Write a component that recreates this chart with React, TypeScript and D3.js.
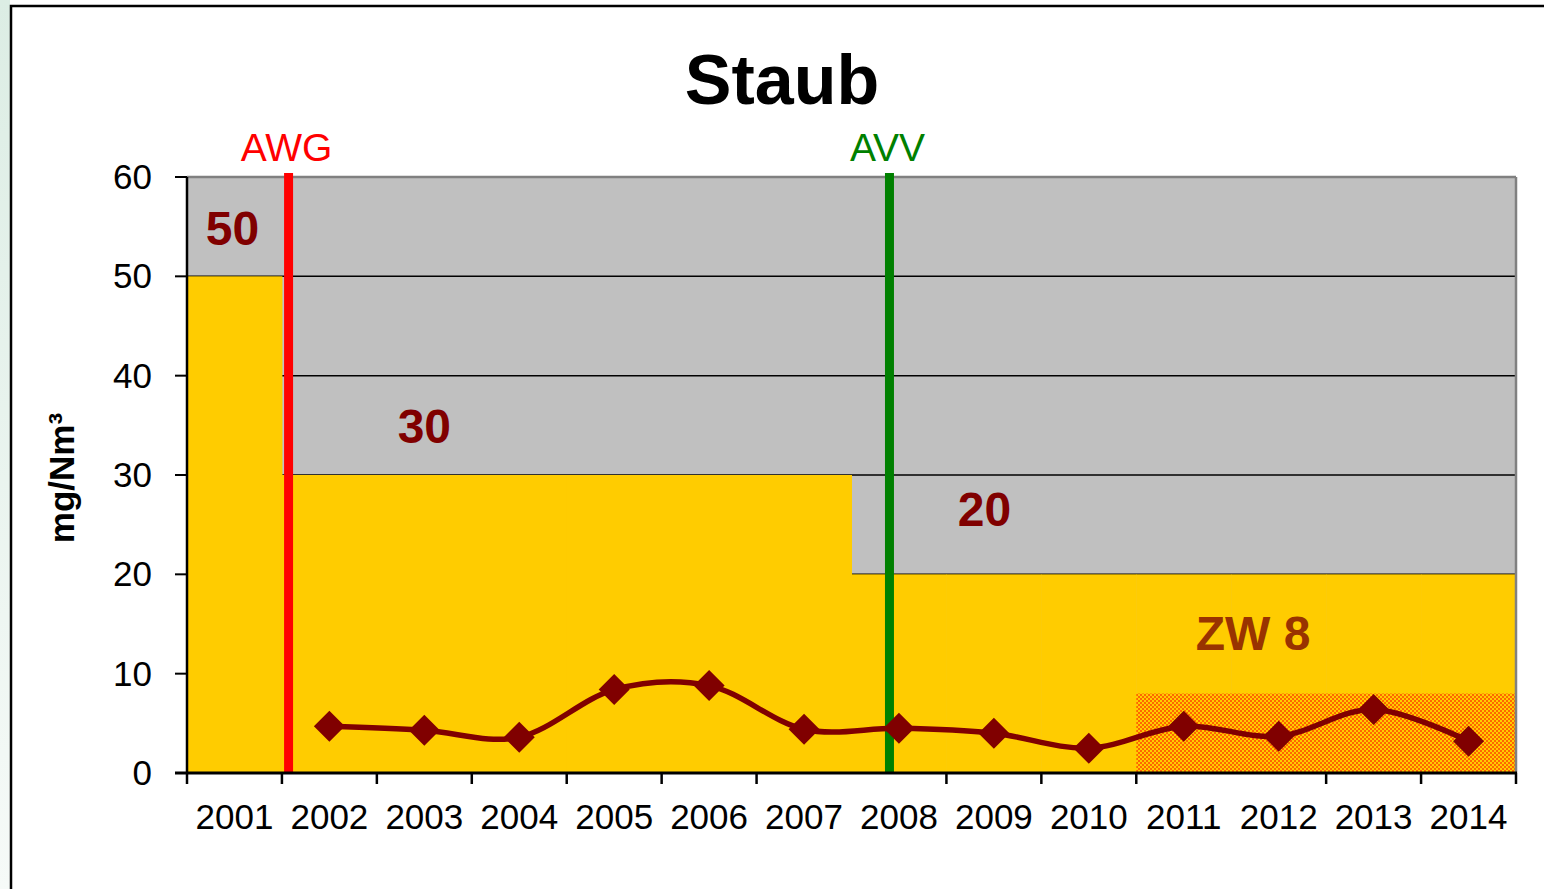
import React from "react"
import * as d3 from "d3"

// data
const years = ["2001", "2002", "2003", "2004", "2005", "2006", "2007", "2008", "2009", "2010", "2011", "2012", "2013", "2014"]
const limits = [50, 30, 30, 30, 30, 30, 30, 20, 20, 20, 20, 20, 20, 20]
const measured = [null, 4.7, 4.3, 3.6, 8.4, 8.8, 4.4, 4.5, 4.0, 2.5, 4.7, 3.7, 6.4, 3.2]
const zwYears = ["2011", "2012", "2013", "2014"]
const zwValue = 8
const yTicks = [0, 10, 20, 30, 40, 50, 60]
const gridValues = [20, 30, 40, 50]
// boundaries where Excel shows a tick mark (index into years, 14 = right end)
const xTickIdx = [0, 1, 2, 3, 4, 5, 6, 8, 9, 10, 12, 13, 14]
// label positions on a continuous year scale
const limitLabels = [
  { text: "50", at: 2001.48, value: 55, color: "#800000" },
  { text: "30", at: 2003.5, value: 35, color: "#800000" },
  { text: "20", at: 2009.4, value: 26.7, color: "#800000" },
  { text: "ZW 8", at: 2012.23, value: 14.2, color: "#993300" },
]
const events = [
  { label: "AWG", at: 2002.07, color: "#ff0000" },
  { label: "AVV", at: 2008.4, color: "#008000" },
]

const W = 1544
const H = 889
const left = 187, right = 1516, top = 177, bottom = 773
const font = "'Liberation Sans', Arial, sans-serif"

export default function App() {
  const x = d3.scaleBand<string>().domain(years).range([left, right]).padding(0)
  const bw = x.bandwidth()
  const xt = d3.scaleLinear().domain([2001, 2015]).range([left, right])
  const y = d3.scaleLinear().domain([0, 60]).range([bottom, top])

  const pts = years
    .map((yr, i) => ({ yr, v: measured[i] }))
    .filter((d) => d.v !== null) as { yr: string; v: number }[]

  const line = d3
    .line<{ yr: string; v: number }>()
    .x((d) => x(d.yr)! + bw / 2)
    .y((d) => y(d.v))
    .curve(d3.curveCatmullRom.alpha(0))

  const zwX0 = x(zwYears[0])!
  const zwX1 = x(zwYears[zwYears.length - 1])! + bw

  return (
    <svg width={W} height={H} style={{ position: "absolute", left: 0, top: 0 }} fontFamily={font}>
      <defs>
        <linearGradient id="side" x1="0" y1="0" x2="0" y2="1">
          <stop offset="0" stopColor="#dcede4" />
          <stop offset="1" stopColor="#f6faf8" />
        </linearGradient>
        <pattern id="zw" width="4" height="4" patternUnits="userSpaceOnUse">
          <rect width="4" height="4" fill="#ff6600" />
          <rect width="2" height="2" fill="#ffcc00" />
          <rect x="2" y="2" width="2" height="2" fill="#ffcc00" />
        </pattern>
      </defs>
      <rect width={W} height={H} fill="#ffffff" />
      <rect x={0} y={0} width={10} height={H} fill="url(#side)" />
      <path d={`M11,${H + 5}V6H${W + 5}`} fill="none" stroke="#000" strokeWidth={2.5} />

      <text x={782} y={104} textAnchor="middle" fontSize={70} fontWeight="bold">Staub</text>

      {/* plot area */}
      <rect x={left} y={top} width={right - left} height={bottom - top} fill="#c0c0c0" />
      {gridValues.map((g) => (
        <line key={g} x1={left} x2={right} y1={y(g)} y2={y(g)} stroke="#000" strokeWidth={1.5} />
      ))}
      {years.map((yr, i) => (
        <rect key={yr} x={x(yr)} y={y(limits[i])} width={bw + 0.5} height={bottom - y(limits[i])} fill="#ffcc00" />
      ))}
      <rect x={zwX0} y={y(zwValue)} width={zwX1 - zwX0} height={bottom - y(zwValue)} fill="url(#zw)" />
      <line x1={left} x2={right} y1={top} y2={top} stroke="#808080" strokeWidth={2.5} />
      <line x1={right} x2={right} y1={top} y2={bottom} stroke="#808080" strokeWidth={2.5} />

      {/* event lines */}
      {events.map((e) => (
        <g key={e.label}>
          <line x1={xt(e.at)} x2={xt(e.at)} y1={173} y2={bottom - 1} stroke={e.color} strokeWidth={9} />
          <text x={xt(e.at) - 2} y={161} textAnchor="middle" fontSize={39} fill={e.color}>{e.label}</text>
        </g>
      ))}

      {/* limit labels */}
      {limitLabels.map((l) => (
        <text key={l.text} x={xt(l.at)} y={y(l.value) + 18} textAnchor="middle" fontSize={48} fontWeight="bold" fill={l.color}>{l.text}</text>
      ))}

      {/* measured values */}
      <path d={line(pts) || ""} fill="none" stroke="#800000" strokeWidth={5.5} />
      {pts.map((d) => {
        const cx = x(d.yr)! + bw / 2
        const cy = y(d.v)
        const r = 15.5
        return <path key={d.yr} d={`M${cx},${cy - r}L${cx + r},${cy}L${cx},${cy + r}L${cx - r},${cy}Z`} fill="#800000" />
      })}

      {/* axes */}
      <line x1={left} x2={left} y1={top} y2={bottom} stroke="#000" strokeWidth={2.5} />
      <line x1={left - 12} x2={right + 1} y1={bottom} y2={bottom} stroke="#000" strokeWidth={3} />
      {yTicks.map((t) => (
        <g key={t}>
          <line x1={left - 12} x2={left} y1={y(t)} y2={y(t)} stroke="#000" strokeWidth={2} />
          <text x={152} y={y(t) + 12} textAnchor="end" fontSize={35}>{t}</text>
        </g>
      ))}
      {xTickIdx.map((i) => (
        <line key={i} x1={left + i * bw} x2={left + i * bw} y1={bottom} y2={bottom + 11} stroke="#000" strokeWidth={2.5} />
      ))}
      {years.map((yr) => (
        <text key={yr} x={x(yr)! + bw / 2} y={829} textAnchor="middle" fontSize={35}>{yr}</text>
      ))}
      <text transform={`translate(74,478) rotate(-90)`} textAnchor="middle" fontSize={35} fontWeight="bold">mg/Nm³</text>
    </svg>
  )
}
